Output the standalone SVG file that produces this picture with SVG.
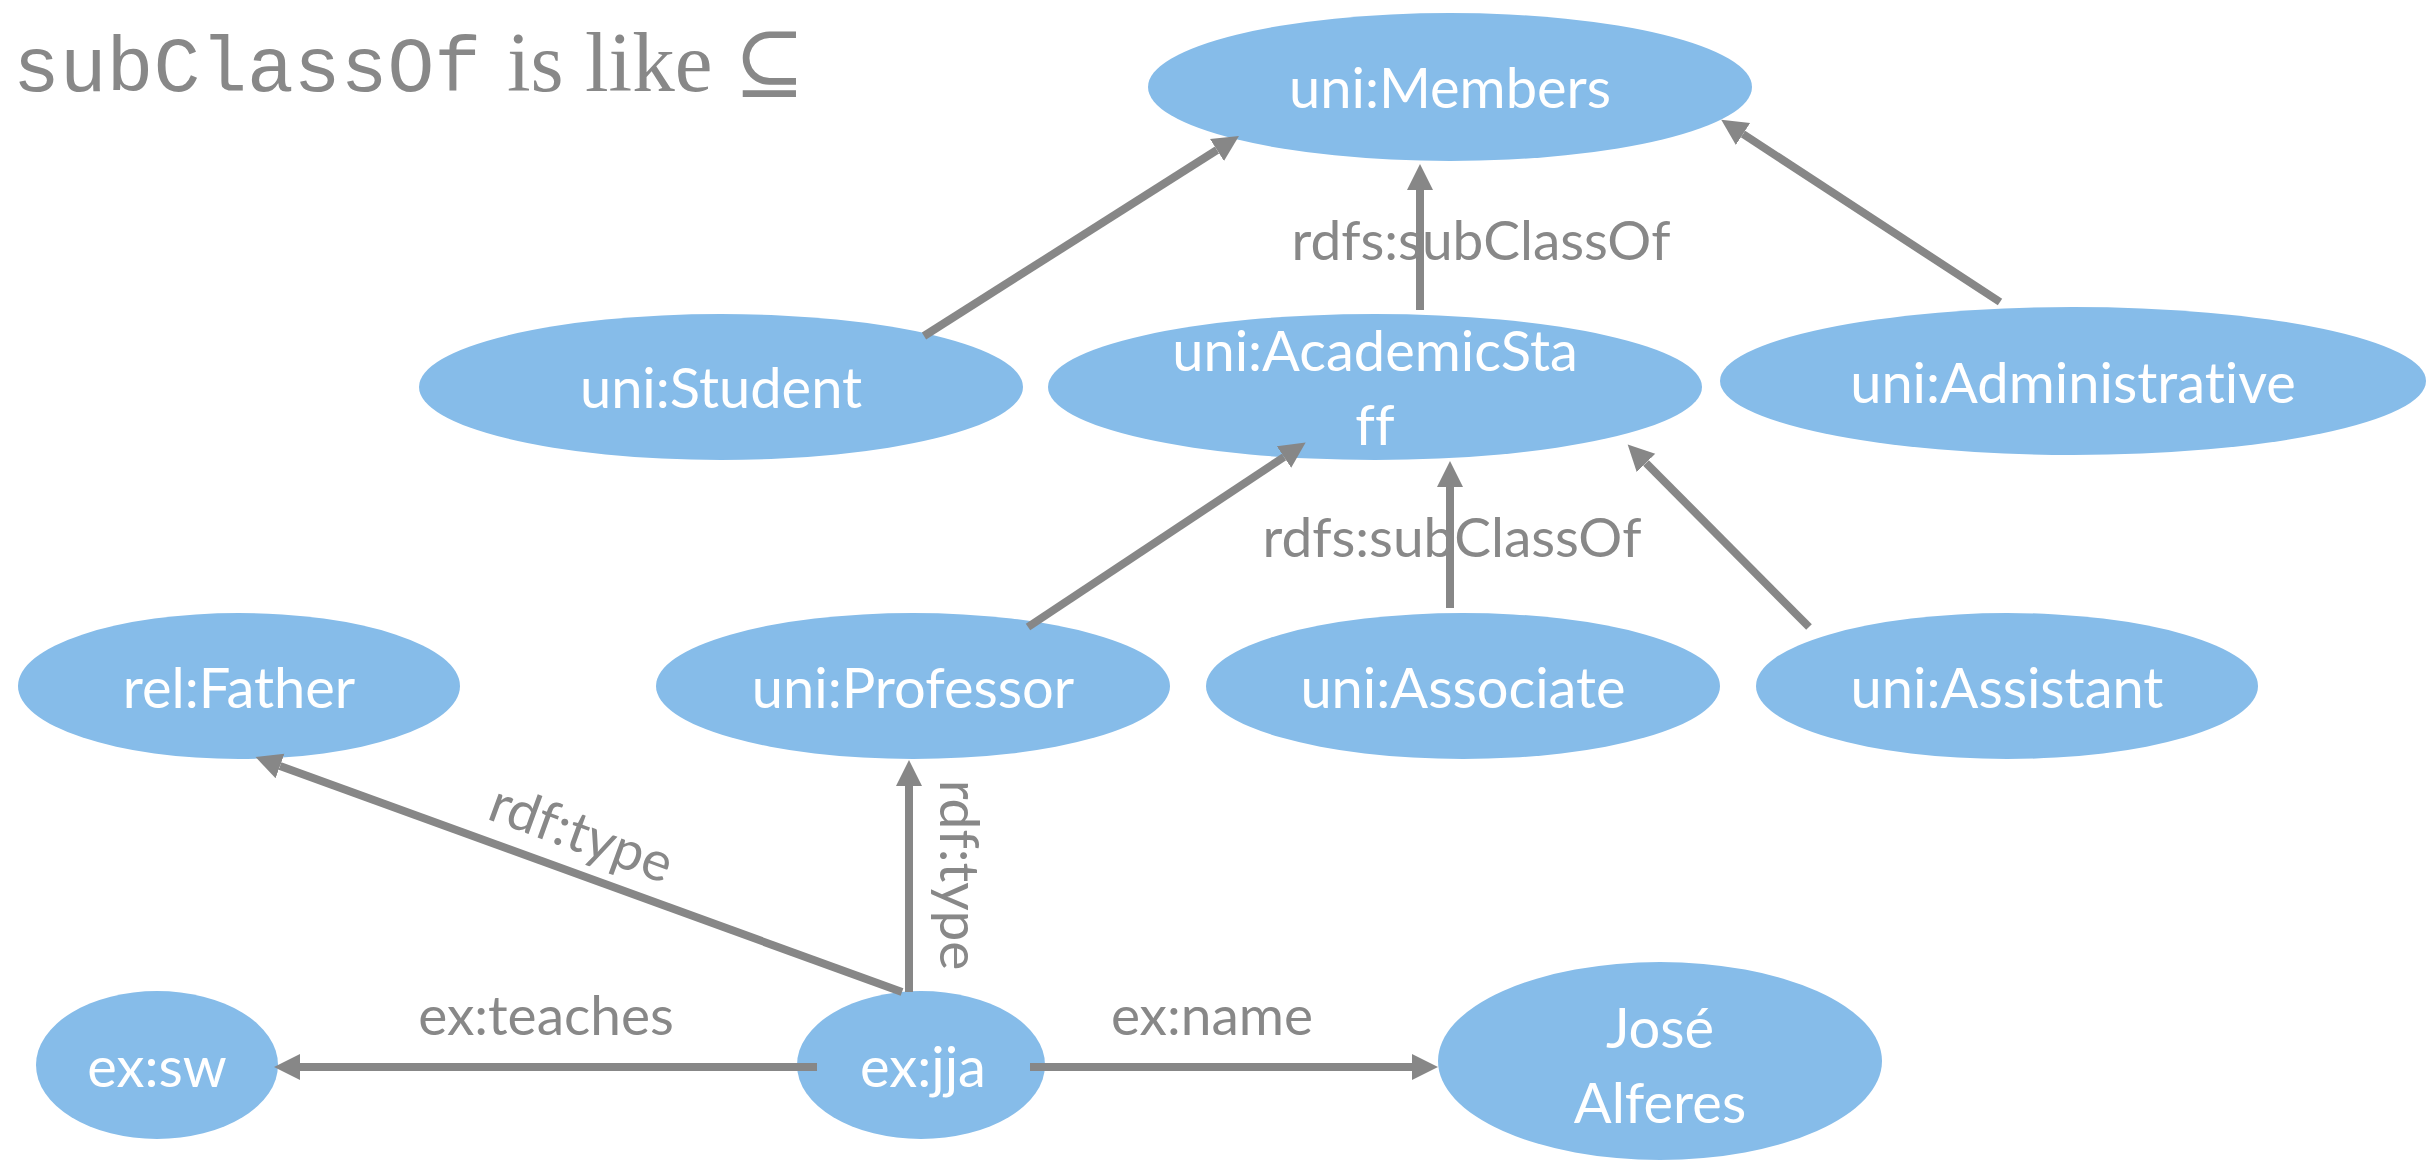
<svg xmlns="http://www.w3.org/2000/svg" width="2427" height="1164" viewBox="0 0 2427 1164">
  <style>
    text { font-variant-ligatures: none; font-feature-settings: "liga" 0, "dlig" 0; }
    .node ellipse { fill: #86BCE9; }
    .node text { font-family: Lato, "Noto Sans", "Liberation Sans", sans-serif; font-size: 56px; fill: #ffffff; text-anchor: middle; }
    .edge { stroke: #878787; stroke-width: 8; fill: none; marker-end: url(#arrow); }
    .elabel { font-family: Lato, "Noto Sans", "Liberation Sans", sans-serif; font-size: 55px; fill: #888888; text-anchor: middle; }
  </style>
  <defs>
    <marker id="arrow" markerUnits="userSpaceOnUse" markerWidth="28" markerHeight="28" viewBox="0 -14 28 28" refX="0" refY="0" orient="auto">
      <path d="M0,-13 L26,0 L0,13 Z" fill="#878787"/>
    </marker>
  </defs>
  <rect width="2427" height="1164" fill="#ffffff"/>

  <g id="title">
    <text x="13" y="91" font-family="'Liberation Mono', monospace" font-size="78" fill="#888888">subClassOf</text>
    <text x="507" y="91" font-family="'Liberation Serif', 'DejaVu Serif', serif" font-size="85" fill="#888888">is like ⊆</text>
  </g>

  <g id="nodes">
    <g id="n-members" class="node"><ellipse cx="1450" cy="87" rx="302" ry="74"/><text x="1450" y="108">uni:Members</text></g>
    <g id="n-student" class="node"><ellipse cx="721" cy="387" rx="302" ry="73"/><text x="721" y="408">uni:Student</text></g>
    <g id="n-academic" class="node"><ellipse cx="1375" cy="387" rx="327" ry="73"/><text x="1375" y="371">uni:AcademicSta</text><text x="1375" y="445">ff</text></g>
    <g id="n-admin" class="node"><ellipse cx="2073" cy="381" rx="353" ry="74"/><text x="2073" y="403">uni:Administrative</text></g>
    <g id="n-father" class="node"><ellipse cx="239" cy="686" rx="221" ry="73"/><text x="239" y="708">rel:Father</text></g>
    <g id="n-professor" class="node"><ellipse cx="913" cy="686" rx="257" ry="73"/><text x="913" y="708">uni:Professor</text></g>
    <g id="n-associate" class="node"><ellipse cx="1463" cy="686" rx="257" ry="73"/><text x="1463" y="708">uni:Associate</text></g>
    <g id="n-assistant" class="node"><ellipse cx="2007" cy="686" rx="251" ry="73"/><text x="2007" y="708">uni:Assistant</text></g>
    <g id="n-sw" class="node"><ellipse cx="157" cy="1065" rx="121" ry="74"/><text x="157" y="1087">ex:sw</text></g>
    <g id="n-jja" class="node"><ellipse cx="921" cy="1065" rx="124" ry="74"/><text x="923" y="1087">ex:jja</text></g>
    <g id="n-jose" class="node"><ellipse cx="1660" cy="1061" rx="222" ry="99"/><text x="1660" y="1048">José</text><text x="1660" y="1123">Alferes</text></g>
  </g>

  <g id="connectors">
    <line class="edge" x1="924" y1="336" x2="1217" y2="150"/>
    <line class="edge" x1="1420" y1="310" x2="1420" y2="190"/>
    <line class="edge" x1="2000" y1="302" x2="1743" y2="134"/>
    <line class="edge" x1="1028" y1="627" x2="1284" y2="457"/>
    <line class="edge" x1="1450" y1="608" x2="1450" y2="487"/>
    <line class="edge" x1="1809" y1="627" x2="1646" y2="463"/>
    <line class="edge" x1="902" y1="992" x2="280" y2="766"/>
    <line class="edge" x1="909" y1="992" x2="909" y2="786"/>
    <line class="edge" x1="817" y1="1067" x2="300" y2="1067"/>
    <line class="edge" x1="1030" y1="1067" x2="1412" y2="1067"/>
    <text class="elabel" x="1481" y="260">rdfs:subClassOf</text>
    <text class="elabel" x="1452" y="557">rdfs:subClassOf</text>
    <text class="elabel" transform="translate(575,851) rotate(20)" x="0" y="0">rdf:type</text>
    <text class="elabel" transform="translate(940,875) rotate(90)" x="0" y="0">rdf:type</text>
    <text class="elabel" x="546" y="1035">ex:teaches</text>
    <text class="elabel" x="1212" y="1035">ex:name</text>
  </g>
</svg>
